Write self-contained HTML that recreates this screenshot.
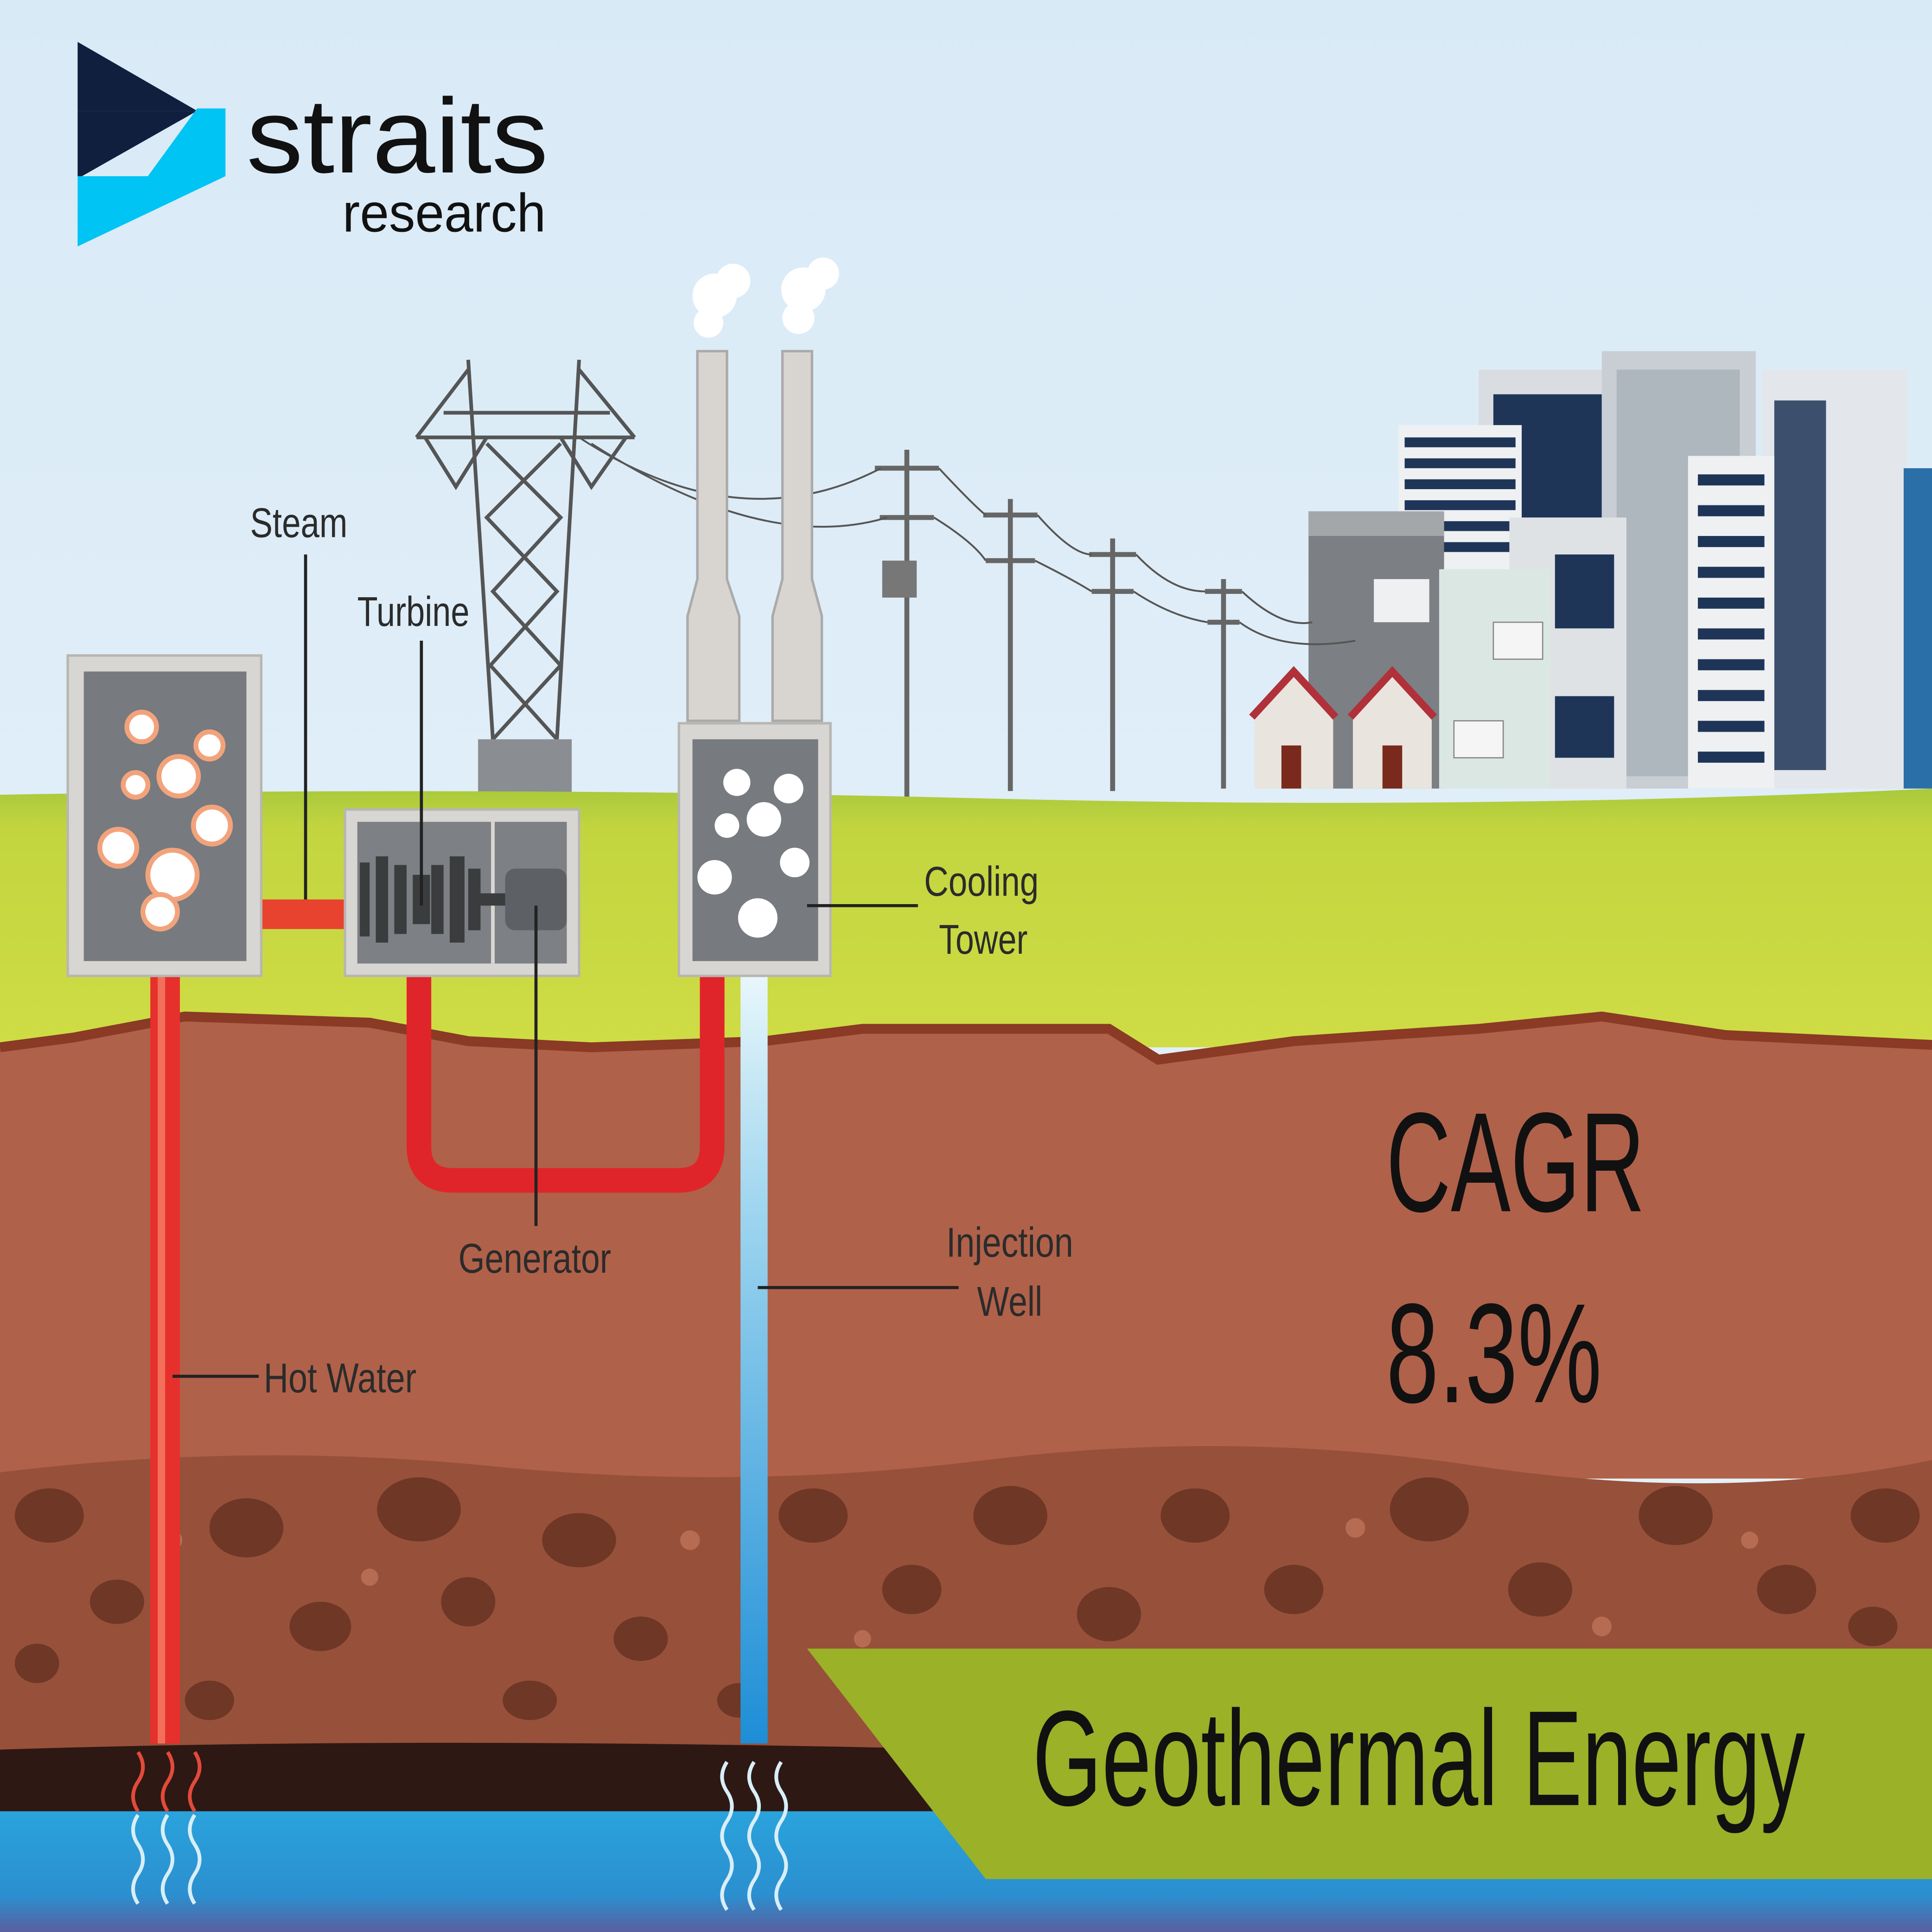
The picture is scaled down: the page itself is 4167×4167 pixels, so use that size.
<!DOCTYPE html>
<html><head><meta charset="utf-8">
<style>
html,body{margin:0;padding:0;width:4167px;height:4167px;overflow:hidden;background:#dfeef8}
svg{display:block}
text{font-family:"Liberation Sans",sans-serif}
</style></head>
<body>
<svg width="4167" height="4167" viewBox="0 0 1568 1568" xmlns="http://www.w3.org/2000/svg">
<defs>
<linearGradient id="sky" x1="0" y1="0" x2="0" y2="1"><stop offset="0" stop-color="#d9eaf7"/><stop offset="1" stop-color="#e8f3f8"/></linearGradient>
<linearGradient id="grass" x1="0" y1="0" x2="0" y2="1"><stop offset="0" stop-color="#a9c93c"/><stop offset="0.15" stop-color="#c2d53f"/><stop offset="1" stop-color="#cfdc45"/></linearGradient>
<linearGradient id="water" x1="0" y1="0" x2="0" y2="1"><stop offset="0" stop-color="#2aa3dc"/><stop offset="0.7" stop-color="#2b8fcf"/><stop offset="1" stop-color="#5a5fa0"/></linearGradient>
<linearGradient id="bpipe" x1="0" y1="0" x2="0" y2="1"><stop offset="0" stop-color="#e8f6fb"/><stop offset="0.3" stop-color="#9fd6ef"/><stop offset="1" stop-color="#1d8ed6"/></linearGradient>
</defs>
<rect width="1568" height="1568" fill="url(#sky)"/>
<g>
<rect x="1200" y="300" width="110" height="340" fill="#d9dde2"/>
<rect x="1212" y="320" width="88" height="110" fill="#1f3558"/>
<rect x="1300" y="285" width="125" height="355" fill="#c9ced4"/>
<rect x="1312" y="300" width="100" height="330" fill="#aeb6be"/>
<rect x="1430" y="300" width="118" height="340" fill="#e3e6ea"/>
<rect x="1440" y="325" width="42" height="300" fill="#1f3558" opacity="0.85"/>
<rect x="1545" y="380" width="23" height="260" fill="#2a6fa8"/>
<rect x="1135" y="345" width="100" height="120" fill="#eef0f2"/>
<g fill="#1f3558"><rect x="1140" y="355" width="90" height="8"/><rect x="1140" y="372" width="90" height="8"/><rect x="1140" y="389" width="90" height="8"/><rect x="1140" y="406" width="90" height="8"/><rect x="1140" y="423" width="90" height="8"/><rect x="1140" y="440" width="90" height="8"/></g>
<rect x="1370" y="370" width="70" height="270" fill="#eef0f2"/>
<g fill="#1f3558"><rect x="1378" y="385" width="54" height="9"/><rect x="1378" y="410" width="54" height="9"/><rect x="1378" y="435" width="54" height="9"/><rect x="1378" y="460" width="54" height="9"/><rect x="1378" y="485" width="54" height="9"/><rect x="1378" y="510" width="54" height="9"/><rect x="1378" y="535" width="54" height="9"/><rect x="1378" y="560" width="54" height="9"/><rect x="1378" y="585" width="54" height="9"/><rect x="1378" y="610" width="54" height="9"/></g>
<rect x="1225" y="420" width="95" height="220" fill="#dfe2e5"/>
<rect x="1262" y="450" width="48" height="60" fill="#1f3558"/>
<rect x="1262" y="565" width="48" height="50" fill="#1f3558"/>
<rect x="1062" y="415" width="110" height="225" fill="#7c7f83"/>
<rect x="1062" y="415" width="110" height="20" fill="#a4a7aa"/>
<rect x="1115" y="470" width="45" height="35" fill="#eef0f2"/>
<rect x="1168" y="462" width="90" height="178" fill="#dbe7e2"/>
<rect x="1212" y="505" width="40" height="30" fill="#f5f5f5" stroke="#888"/>
<rect x="1180" y="585" width="40" height="30" fill="#f5f5f5" stroke="#888"/>
<polygon points="1018,580 1050,545 1082,580 1082,640 1018,640" fill="#e9e4de"/>
<polyline points="1016,582 1050,545 1084,582" fill="none" stroke="#b0313a" stroke-width="6"/>
<rect x="1040" y="605" width="16" height="35" fill="#7a2a1c"/>
<polygon points="1098,580 1130,545 1162,580 1162,640 1098,640" fill="#e9e4de"/>
<polyline points="1096,582 1130,545 1164,582" fill="none" stroke="#b0313a" stroke-width="6"/>
<rect x="1122" y="605" width="16" height="35" fill="#7a2a1c"/>
</g>
<g stroke="#666" stroke-width="4" fill="none">
<line x1="736" y1="365" x2="736" y2="648"/><line x1="710" y1="380" x2="762" y2="380"/><line x1="714" y1="420" x2="758" y2="420"/>
<line x1="820" y1="405" x2="820" y2="642"/><line x1="798" y1="418" x2="842" y2="418"/><line x1="800" y1="455" x2="840" y2="455"/>
<line x1="903" y1="437" x2="903" y2="642"/><line x1="884" y1="450" x2="922" y2="450"/><line x1="886" y1="480" x2="920" y2="480"/>
<line x1="993" y1="470" x2="993" y2="640"/><line x1="978" y1="480" x2="1008" y2="480"/><line x1="980" y1="505" x2="1006" y2="505"/>
</g>
<rect x="716" y="455" width="28" height="30" fill="#777"/>
<g stroke="#555" stroke-width="1.5" fill="none">
<path d="M470,355 Q600,440 715,380"/><path d="M480,360 Q620,450 720,420"/>
<path d="M762,380 Q790,410 800,418"/><path d="M758,420 Q790,440 800,455"/>
<path d="M842,418 Q870,450 886,450"/><path d="M840,455 Q870,470 886,480"/>
<path d="M922,450 Q950,480 978,480"/><path d="M920,480 Q950,500 980,505"/>
<path d="M1008,480 Q1040,510 1065,505"/><path d="M1006,505 Q1040,530 1100,520"/>
</g>
<g stroke="#555" stroke-width="3" fill="none">
<line x1="380" y1="292" x2="400" y2="600"/><line x1="470" y1="292" x2="452" y2="600"/>
<line x1="338" y1="355" x2="515" y2="355"/><line x1="360" y1="335" x2="495" y2="335"/>
<path d="M395,360 L455,420 L400,480 L455,540 L400,600 M455,360 L395,420 L452,480 L398,540 L452,600"/>
<path d="M338,355 L380,300 M515,355 L470,300 M345,355 L370,395 L395,355 M455,355 L480,395 L508,355"/>
</g>
<rect x="388" y="600" width="76" height="52" fill="#8a8d91"/>
<g fill="#d8d4d0" stroke="#aaa" stroke-width="2">
<path d="M566,285 H590 V470 L600,500 V585 H558 V500 L566,470 Z"/>
<path d="M635,285 H659 V470 L667,500 V585 H627 V500 L635,470 Z"/>
</g>
<g fill="#fff"><circle cx="580" cy="240" r="18"/><circle cx="595" cy="228" r="14"/><circle cx="575" cy="262" r="12"/><circle cx="652" cy="235" r="18"/><circle cx="668" cy="222" r="13"/><circle cx="648" cy="258" r="13"/></g>
<path d="M0,645 Q400,638 800,648 T1568,640 V850 H0 Z" fill="url(#grass)"/>
<path d="M0,850 L60,842 L150,825 L300,830 L380,845 L480,850 L620,845 L700,835 L900,835 L940,860 L1050,845 L1200,835 L1300,825 L1400,840 L1568,848 V1200 H0 Z" fill="#b0614a"/>
<path d="M0,850 L60,842 L150,825 L300,830 L380,845 L480,850 L620,845 L700,835 L900,835 L940,860 L1050,845 L1200,835 L1300,825 L1400,840 L1568,848" fill="none" stroke="#8a3a25" stroke-width="8"/>
<path d="M0,1195 Q200,1170 400,1190 T800,1185 T1200,1190 T1568,1185 V1420 H0 Z" fill="#97503a"/>
<g fill="#6e3726">
<ellipse cx="40" cy="1230" rx="28" ry="22"/><ellipse cx="95" cy="1300" rx="22" ry="18"/><ellipse cx="30" cy="1350" rx="18" ry="16"/><ellipse cx="200" cy="1240" rx="30" ry="24"/><ellipse cx="260" cy="1320" rx="25" ry="20"/><ellipse cx="340" cy="1225" rx="34" ry="26"/><ellipse cx="380" cy="1300" rx="22" ry="20"/><ellipse cx="470" cy="1250" rx="30" ry="22"/><ellipse cx="520" cy="1330" rx="22" ry="18"/><ellipse cx="660" cy="1230" rx="28" ry="22"/><ellipse cx="740" cy="1290" rx="24" ry="20"/><ellipse cx="820" cy="1230" rx="30" ry="24"/><ellipse cx="900" cy="1310" rx="26" ry="22"/><ellipse cx="970" cy="1230" rx="28" ry="22"/><ellipse cx="1050" cy="1290" rx="24" ry="20"/><ellipse cx="1160" cy="1225" rx="32" ry="26"/><ellipse cx="1250" cy="1290" rx="26" ry="22"/><ellipse cx="1360" cy="1230" rx="30" ry="24"/><ellipse cx="1450" cy="1290" rx="24" ry="20"/><ellipse cx="1530" cy="1230" rx="28" ry="22"/><ellipse cx="170" cy="1380" rx="20" ry="16"/><ellipse cx="430" cy="1380" rx="22" ry="16"/><ellipse cx="600" cy="1380" rx="18" ry="14"/><ellipse cx="1520" cy="1320" rx="20" ry="16"/>
</g>
<g fill="#b56c52"><circle cx="140" cy="1250" r="8"/><circle cx="300" cy="1280" r="7"/><circle cx="560" cy="1250" r="8"/><circle cx="700" cy="1330" r="7"/><circle cx="1100" cy="1240" r="8"/><circle cx="1300" cy="1320" r="8"/><circle cx="1420" cy="1250" r="7"/></g>
<path d="M0,1420 Q300,1410 700,1418 T1568,1415 V1475 H0 Z" fill="#2d1813"/>
<rect x="0" y="1470" width="1568" height="98" fill="url(#water)"/>
<g fill="none" stroke-width="3">
<g stroke="#e24a3a"><path d="M112,1470 q-8,-12 0,-24 q8,-12 0,-24"/><path d="M136,1470 q-8,-12 0,-24 q8,-12 0,-24"/><path d="M158,1470 q-8,-12 0,-24 q8,-12 0,-24"/></g>
<g stroke="#d8eef8"><path d="M112,1545 q-8,-12 0,-24 q8,-12 0,-24 q-8,-12 0,-24"/><path d="M136,1545 q-8,-12 0,-24 q8,-12 0,-24 q-8,-12 0,-24"/><path d="M158,1545 q-8,-12 0,-24 q8,-12 0,-24 q-8,-12 0,-24"/>
<path d="M590,1430 q-8,12 0,24 q8,12 0,24 q-8,12 0,24 q8,12 0,24 q-8,12 0,24"/><path d="M612,1430 q-8,12 0,24 q8,12 0,24 q-8,12 0,24 q8,12 0,24 q-8,12 0,24"/><path d="M634,1430 q-8,12 0,24 q8,12 0,24 q-8,12 0,24 q8,12 0,24 q-8,12 0,24"/></g>
</g>
<rect x="122" y="792" width="24" height="623" fill="#e6302c"/>
<rect x="128" y="792" width="6" height="623" fill="#f2705a"/>
<path d="M340,792 V930 Q340,958 368,958 H550 Q578,958 578,930 V792" fill="none" stroke="#e0252a" stroke-width="20"/>
<rect x="212" y="730" width="70" height="24" fill="#e8432e"/>
<rect x="601" y="792" width="22" height="623" fill="url(#bpipe)"/>
<rect x="55" y="532" width="157" height="260" fill="#d8d6d2" stroke="#b8b6b2" stroke-width="2"/>
<rect x="68" y="545" width="132" height="235" fill="#777a7e"/>
<g fill="#fff" stroke="#f2a37c" stroke-width="4">
<circle cx="115" cy="590" r="12"/><circle cx="170" cy="605" r="11"/><circle cx="145" cy="630" r="16"/><circle cx="110" cy="637" r="10"/><circle cx="172" cy="670" r="15"/><circle cx="96" cy="688" r="15"/><circle cx="140" cy="710" r="20"/><circle cx="130" cy="740" r="14"/>
</g>
<rect x="280" y="657" width="190" height="135" fill="#d8d6d2" stroke="#b8b6b2" stroke-width="2"/>
<rect x="290" y="667" width="170" height="115" fill="#7d8084"/>
<line x1="400" y1="667" x2="400" y2="782" stroke="#d8d6d2" stroke-width="3"/>
<g fill="#3a3c3e"><rect x="292" y="700" width="8" height="60"/><rect x="305" y="695" width="10" height="70"/><rect x="320" y="702" width="10" height="56"/><rect x="335" y="710" width="14" height="40"/><rect x="350" y="702" width="10" height="56"/><rect x="365" y="695" width="12" height="70"/><rect x="380" y="705" width="10" height="50"/></g>
<rect x="390" y="725" width="25" height="10" fill="#3a3c3e"/>
<rect x="410" y="705" width="50" height="50" rx="8" fill="#5d6064"/>
<rect x="551" y="587" width="123" height="205" fill="#d8d6d2" stroke="#b8b6b2" stroke-width="2"/>
<rect x="562" y="600" width="102" height="180" fill="#777a7e"/>
<g fill="#fff"><circle cx="598" cy="635" r="11"/><circle cx="640" cy="640" r="12"/><circle cx="620" cy="665" r="14"/><circle cx="590" cy="670" r="10"/><circle cx="645" cy="700" r="12"/><circle cx="580" cy="712" r="14"/><circle cx="615" cy="745" r="16"/></g>
<g stroke="#222" stroke-width="2.5" fill="none">
<line x1="248" y1="450" x2="248" y2="730"/>
<line x1="342" y1="520" x2="342" y2="735"/>
<line x1="435" y1="735" x2="435" y2="995"/>
<line x1="655" y1="735" x2="745" y2="735"/>
<line x1="140" y1="1117" x2="210" y2="1117"/>
<line x1="615" y1="1045" x2="778" y2="1045"/>
</g>
<g fill="#2b2b2b" font-size="34">
<text x="203" y="436" textLength="79" lengthAdjust="spacingAndGlyphs">Steam</text>
<text x="290" y="508" textLength="91" lengthAdjust="spacingAndGlyphs">Turbine</text>
<text x="750" y="727" textLength="93" lengthAdjust="spacingAndGlyphs">Cooling</text>
<text x="762" y="774" textLength="72" lengthAdjust="spacingAndGlyphs">Tower</text>
<text x="372" y="1033" textLength="124" lengthAdjust="spacingAndGlyphs">Generator</text>
<text x="214" y="1130" textLength="124" lengthAdjust="spacingAndGlyphs">Hot Water</text>
<text x="768" y="1020" textLength="103" lengthAdjust="spacingAndGlyphs">Injection</text>
<text x="793" y="1068" textLength="53" lengthAdjust="spacingAndGlyphs">Well</text>
</g>
<text x="1125" y="983" font-size="115" fill="#111" textLength="210" lengthAdjust="spacingAndGlyphs">CAGR</text>
<text x="1125" y="1138" font-size="115" fill="#111" textLength="175" lengthAdjust="spacingAndGlyphs">8.3%</text>
<polygon points="655,1338 1568,1338 1568,1525 800,1525" fill="#9ab128"/>
<text x="838" y="1465" font-size="110" fill="#111" textLength="627" lengthAdjust="spacingAndGlyphs">Geothermal Energy</text>
<polygon points="63,34 160,90 63,90" fill="#0f1f3d"/>
<polygon points="63,90 160,90 63,145" fill="#0f1f3d"/>
<polygon points="160,88 183,88 183,143 63,200 63,143 120,143" fill="#00c4f4"/>
<text x="200" y="140" font-size="86" fill="#111" textLength="245" lengthAdjust="spacingAndGlyphs">straits</text>
<text x="278" y="188" font-size="44" fill="#111" textLength="165" lengthAdjust="spacingAndGlyphs">research</text>
</svg>
</body></html>
